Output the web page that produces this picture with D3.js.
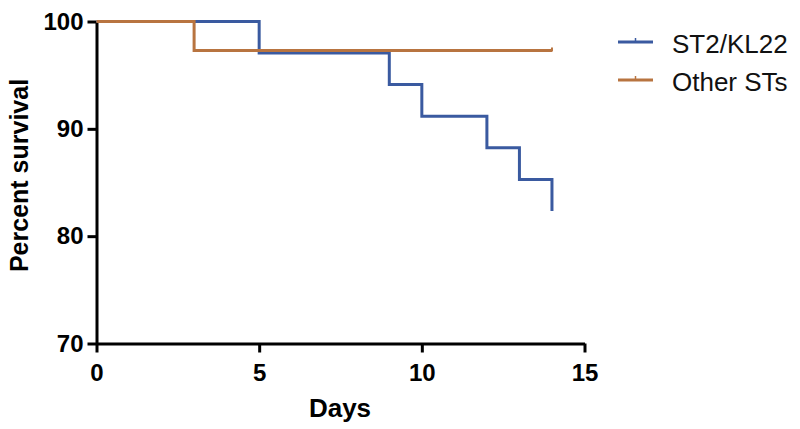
<!DOCTYPE html>
<html><head><meta charset="utf-8">
<script src="https://cdn.jsdelivr.net/npm/d3@7"></script>
<style>body{margin:0;background:#fff}svg{display:block}</style>
</head><body>
<svg id="c" width="800" height="429"></svg>
<script>
const seriesNames = ["ST2/KL22", "Other STs"];
const seriesColors = ["#3A5AA0", "#B87440"];
const st2Days = [0, 5, 9, 10, 12, 13, 14];
const st2Surv = [100, 97.06, 94.12, 91.18, 88.24, 85.29, 82.35];
const otherDays = [0, 3, 14];
const otherSurv = [100, 97.3, 97.3];
const xTicks = [0, 5, 10, 15];
const yTicks = [70, 80, 90, 100];

const svg = d3.select("#c");
const x = d3.scaleLinear().domain([0, 15]).range([96.5, 584.5]);
const y = d3.scaleLinear().domain([70, 100]).range([343.5, 21.5]);
const font = "Arial, 'Liberation Sans', sans-serif";

// axes
const xa = svg.append("g").attr("transform", `translate(0,${y(70)})`)
  .call(d3.axisBottom(x).tickValues(xTicks).tickSize(9).tickSizeOuter(0).tickPadding(11));
const ya = svg.append("g").attr("transform", `translate(${x(0)},0)`)
  .call(d3.axisLeft(y).tickValues(yTicks).tickSize(9).tickSizeOuter(0).tickPadding(4));
[xa, ya].forEach(a => {
  a.select(".domain").attr("stroke", "#000").attr("stroke-width", 3);
  a.selectAll(".tick line").attr("stroke", "#000").attr("stroke-width", 3);
  a.selectAll(".tick text").attr("fill", "#000").style("font-family", font)
    .style("font-weight", "bold").style("font-size", "24px");
});

// step curves
function stepPath(days, surv) {
  const pts = days.map((d, i) => [d, surv[i]]);
  return d3.line().x(d => x(d[0])).y(d => y(d[1])).curve(d3.curveStepAfter)(pts);
}
const data = [[st2Days, st2Surv], [otherDays, otherSurv]];
data.forEach((s, i) => {
  svg.append("path").attr("d", stepPath(s[0], s[1])).attr("fill", "none")
    .attr("stroke", seriesColors[i]).attr("stroke-width", 3).attr("stroke-linejoin", "miter");
});
// censored tick at end of Other STs
svg.append("line").attr("x1", x(14)).attr("x2", x(14))
  .attr("y1", y(otherSurv[2]) - 3).attr("y2", y(otherSurv[2]) + 1)
  .attr("stroke", seriesColors[1]).attr("stroke-width", 2);

// axis titles
svg.append("text").attr("x", 340).attr("y", 417).attr("text-anchor", "middle")
  .style("font-family", font).style("font-weight", "bold").style("font-size", "26px").text("Days");
svg.append("text").attr("transform", `translate(28,175.5) rotate(-90)`).attr("text-anchor", "middle")
  .style("font-family", font).style("font-weight", "bold").style("font-size", "25px").text("Percent survival");

// legend
seriesNames.forEach((n, i) => {
  const ly = 42 + i * 38;
  svg.append("line").attr("x1", 618).attr("x2", 653).attr("y1", ly).attr("y2", ly)
    .attr("stroke", seriesColors[i]).attr("stroke-width", 3);
  svg.append("line").attr("x1", 635.5).attr("x2", 635.5).attr("y1", ly - 4).attr("y2", ly)
    .attr("stroke", seriesColors[i]).attr("stroke-width", 1.5);
  svg.append("text").attr("x", 672).attr("y", ly + 11).style("font-family", font)
    .style("font-size", "26px").attr("fill", "#111").text(n);
});
</script>
</body></html>
